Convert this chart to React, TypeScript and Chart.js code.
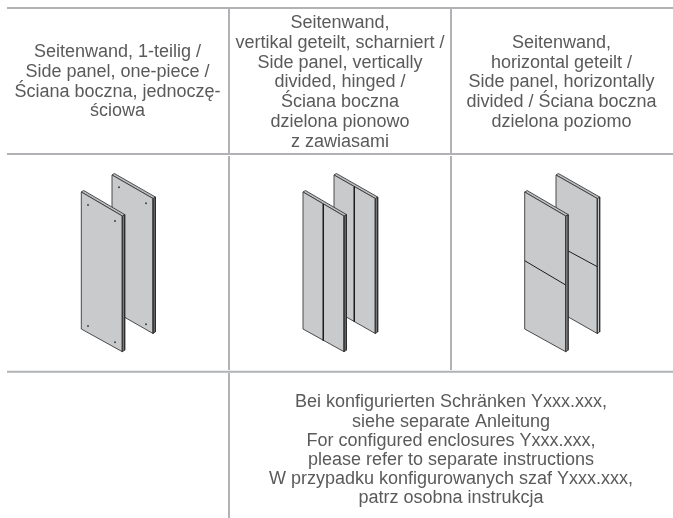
import React, { useEffect, useRef } from "react";
import { Chart, registerables } from "chart.js";

Chart.register(...registerables);

type P = [number, number];

const ruleColor = "#b1b2b5";
const rowRules: P[][] = [
  [[7, 8], [673, 8]],
  [[7, 154], [673, 154]],
  [[7, 371.7], [673, 371.7]],
];
const columnRules: P[][] = [
  [[229, 9], [229, 153]],
  [[229, 156], [229, 370]],
  [[229, 373], [229, 518]],
  [[451, 9], [451, 153]],
  [[451, 156], [451, 370]],
];

const onePieceBack: P[] = [[112, 175], [153, 198.5], [153, 333.5], [112, 310]];
const onePieceFront: P[] = [[81.3, 192], [122.3, 216], [122.3, 351.7], [81.3, 329]];
const hingedBack: P[] = [[334, 175], [375.3, 198.5], [375.3, 333.5], [334, 310]];
const hingedFront: P[] = [[303, 192], [344, 216], [344, 351.7], [303, 329]];
const splitBack: P[] = [[556, 175], [597.3, 198.5], [597.3, 333.5], [556, 310]];
const splitFront: P[] = [[524.7, 192], [565.7, 216], [565.7, 351.7], [524.7, 329]];

const hingedSeamBack: P[] = [[354.3, 186.7], [354.3, 321.7]];
const hingedSeamFront: P[] = [[323.3, 204], [323.3, 340.7]];
const splitSeamBack: P[] = [[568.3, 251], [597.3, 266.7]];
const splitSeamFront: P[] = [[524.7, 260.7], [565.7, 285]];
const holesBack: P[] = [[119, 187.3], [146, 203.3], [146, 324.3]];
const holesFront: P[] = [[88, 205], [115, 221], [88, 326], [115, 342.3]];

const cellOne = ["Seitenwand, 1-teilig /", "Side panel, one-piece /", "Ściana boczna, jednoczę-", "ściowa"];
const cellTwo = ["Seitenwand,", "vertikal geteilt, scharniert /", "Side panel, vertically", "divided, hinged /", "Ściana boczna", "dzielona pionowo", "z zawiasami"];
const cellThree = ["Seitenwand,", "horizontal geteilt /", "Side panel, horizontally", "divided / Ściana boczna", "dzielona poziomo"];
const cellNote = ["Bei konfigurierten Schränken Yxxx.xxx,", "siehe separate Anleitung", "For configured enclosures Yxxx.xxx,", "please refer to separate instructions", "W przypadku konfigurowanych szaf Yxxx.xxx,", "patrz osobna instrukcja"];

const textBlocks: { lines: string[]; cx: number; top: number; step: number }[] = [
  { lines: cellOne, cx: 117.5, top: 52, step: 19.8 },
  { lines: cellTwo, cx: 340, top: 23, step: 19.8 },
  { lines: cellThree, cx: 561.5, top: 43, step: 19.7 },
  { lines: cellNote, cx: 451, top: 402.5, step: 19.2 },
];

const toXY = (pts: P[]) => pts.map(([x, y]) => ({ x, y }));
const shape = (pts: P[], fill: string, border: string, borderWidth: number) => ({
  type: "scatter" as const,
  data: toXY([...pts, pts[0]]),
  showLine: true,
  fill: "shape",
  backgroundColor: fill,
  borderColor: border,
  borderWidth,
  pointRadius: 0,
  tension: 0,
});
const line = (pts: P[], color: string, width: number) => ({
  type: "scatter" as const,
  data: toXY(pts),
  showLine: true,
  fill: false,
  borderColor: color,
  borderWidth: width,
  pointRadius: 0,
});
const panel = (f: P[], sideColor = "#77787a") => {
  const [tl, tr, br] = f;
  const dx = 2.4, dy = -1.5;
  return [
    shape([tr, [tr[0] + dx, tr[1] + dy], [br[0] + dx, br[1] + dy], br], sideColor, "#2a2a2a", 0.8),
    shape([tl, [tl[0] + dx, tl[1] + dy], [tr[0] + dx, tr[1] + dy], tr], "#bdbec0", "#2a2a2a", 0.8),
    shape(f, "#c9cacc", "#3a3a3a", 0.9),
  ];
};
const dots = (pts: P[]) => ({
  type: "scatter" as const,
  data: toXY(pts),
  showLine: false,
  pointRadius: 1,
  pointBackgroundColor: "#444",
  pointBorderWidth: 0,
});

const textPlugin = {
  id: "cellText",
  afterDatasetsDraw(chart: any) {
    const { ctx, scales } = chart;
    ctx.save();
    ctx.font = '18px "Liberation Sans", Arial, sans-serif';
    ctx.fillStyle = "#5a5a5a";
    ctx.textAlign = "center";
    ctx.textBaseline = "middle";
    for (const b of textBlocks) {
      b.lines.forEach((t, i) => {
        ctx.fillText(t, scales.x.getPixelForValue(b.cx), scales.y.getPixelForValue(b.top + i * b.step));
      });
    }
    ctx.restore();
  },
};

export default function App() {
  const ref = useRef<HTMLCanvasElement>(null);
  useEffect(() => {
    // Painted back to front: Chart.js draws the last dataset first.
    const layers = [
      ...rowRules.map((r) => line(r, ruleColor, 2)),
      ...columnRules.map((r) => line(r, ruleColor, 2)),
      ...panel(onePieceBack),
      dots(holesBack),
      ...panel(hingedBack),
      ...panel(splitBack, "#c4c5c7"),
      line(hingedSeamBack, "#1c1c1c", 1),
      line(splitSeamBack, "#1c1c1c", 1),
      ...panel(onePieceFront),
      dots(holesFront),
      ...panel(hingedFront),
      ...panel(splitFront, "#c4c5c7"),
      line(hingedSeamFront, "#1c1c1c", 1),
      line(splitSeamFront, "#1c1c1c", 1),
    ];
    const chart = new Chart(ref.current!, {
      type: "scatter",
      data: { datasets: layers.reverse() as any },
      options: {
        animation: false,
        responsive: false,
        layout: { padding: 0, autoPadding: false },
        plugins: { legend: { display: false }, tooltip: { enabled: false }, title: { display: false } },
        scales: {
          x: { type: "linear", min: 0, max: 673, display: false },
          y: { type: "linear", min: 0, max: 518, reverse: true, display: false },
        },
      },
      plugins: [textPlugin],
    });
    return () => chart.destroy();
  }, []);
  return (
    <canvas
      ref={ref}
      width={673}
      height={518}
      style={{ position: "fixed", left: 0, top: 0, width: 673, height: 518, background: "#fff" }}
    />
  );
}
